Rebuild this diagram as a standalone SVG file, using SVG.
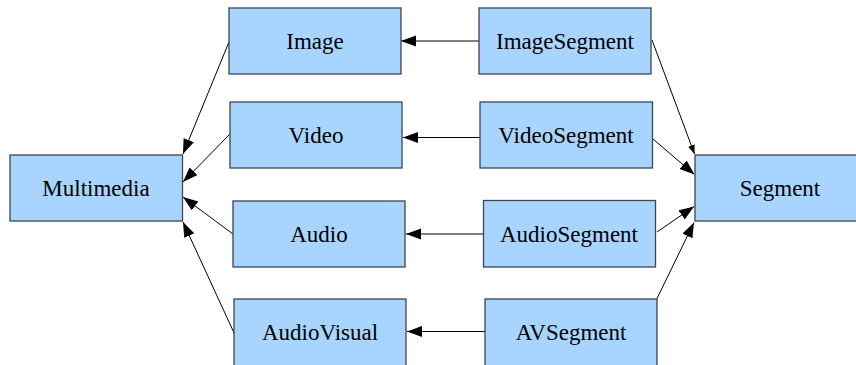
<svg xmlns="http://www.w3.org/2000/svg" width="856" height="365" viewBox="0 0 856 365">
<defs>
<style>
.box{fill:#a8d5ff;stroke:#3c4650;stroke-width:1.3}
.lbl{font-family:"Liberation Serif","Times New Roman",serif;font-size:23px;fill:#000;text-anchor:middle}
.edge{stroke:#000;stroke-width:1;fill:none;marker-end:url(#ah)}
.edge2{stroke:#000;stroke-width:1;fill:none;marker-end:url(#ahs)}
</style>
<marker id="ah" markerUnits="userSpaceOnUse" markerWidth="16" markerHeight="12" refX="15" refY="5.5" orient="auto">
<path d="M0,0 L15,5.5 L0,11 Z" fill="#000"/>
</marker>
<marker id="ahs" markerUnits="userSpaceOnUse" markerWidth="10" markerHeight="8" refX="9" refY="3.5" orient="auto">
<path d="M0,0 L9,3.5 L0,7 Z" fill="#000"/>
</marker>
</defs>
<rect width="856" height="365" fill="#fff"/>
<g id="connectors">
<line class="edge" x1="229" y1="42" x2="183" y2="154"/>
<line class="edge" x1="230" y1="134" x2="183" y2="182"/>
<line class="edge" x1="233" y1="234" x2="183" y2="197"/>
<line class="edge" x1="235" y1="335" x2="183" y2="222"/>
<line class="edge" x1="479" y1="41" x2="401" y2="41"/>
<line class="edge" x1="480" y1="137.5" x2="403" y2="137.5"/>
<line class="edge" x1="483" y1="234" x2="406" y2="234"/>
<line class="edge" x1="485" y1="331.5" x2="407" y2="331.5"/>
<line class="edge2" x1="652" y1="40" x2="694.5" y2="154"/>
<line class="edge" x1="653" y1="139" x2="694.5" y2="174.5"/>
<line class="edge" x1="657" y1="232" x2="694" y2="206.5"/>
<line class="edge" x1="657" y1="298.5" x2="694" y2="222.5"/>
</g>
<g id="Image"><rect class="box" x="229" y="8" width="172" height="66"/><text class="lbl" x="315" y="49">Image</text></g>
<g id="Video"><rect class="box" x="230" y="102" width="172" height="66"/><text class="lbl" x="316" y="143">Video</text></g>
<g id="Multimedia"><rect class="box" x="10" y="155" width="172.5" height="66"/><text class="lbl" x="96" y="196">Multimedia</text></g>
<g id="Audio"><rect class="box" x="233" y="201" width="172" height="66"/><text class="lbl" x="319" y="242">Audio</text></g>
<g id="AudioVisual"><rect class="box" x="234" y="299" width="172" height="70"/><text class="lbl" x="320" y="340">AudioVisual</text></g>
<g id="ImageSegment"><rect class="box" x="479" y="8" width="172" height="66"/><text class="lbl" x="565" y="49">ImageSegment</text></g>
<g id="VideoSegment"><rect class="box" x="480" y="102" width="172.5" height="66"/><text class="lbl" x="566" y="143">VideoSegment</text></g>
<g id="Segment"><rect class="box" x="695" y="155" width="165" height="66"/><text class="lbl" x="780" y="196">Segment</text></g>
<g id="AudioSegment"><rect class="box" x="483.5" y="200.5" width="172" height="66.5"/><text class="lbl" x="569" y="242">AudioSegment</text></g>
<g id="AVSegment"><rect class="box" x="485" y="299" width="172" height="70"/><text class="lbl" x="571" y="340">AVSegment</text></g>
</svg>
